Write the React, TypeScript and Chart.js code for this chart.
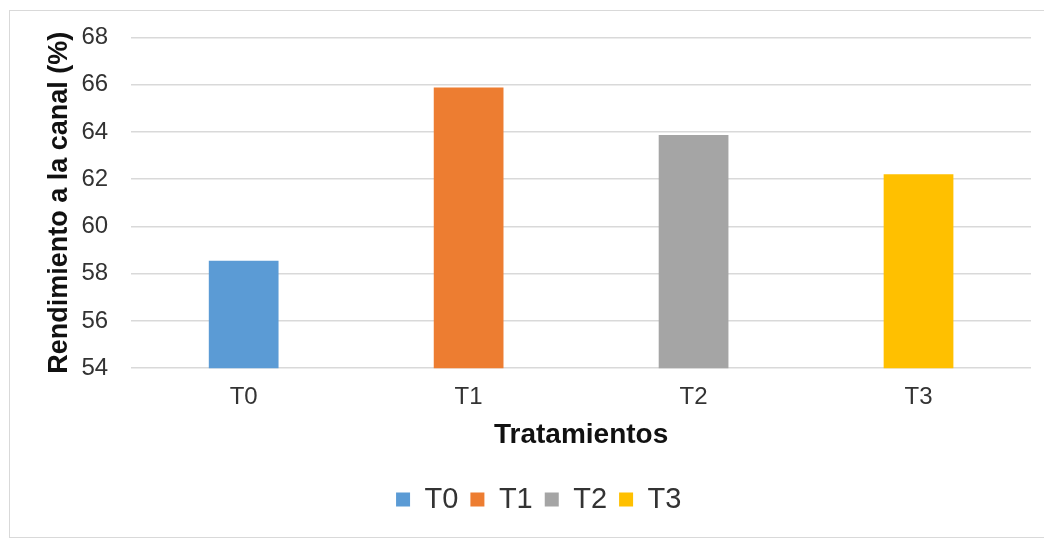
import React, { useEffect, useRef } from "react";
import { Chart, registerables } from "chart.js";

Chart.register(...registerables);

const categories = ["T0", "T1", "T2", "T3"];
const values = [58.55, 65.88, 63.87, 62.21];
const colors = ["#5B9BD5", "#ED7D31", "#A5A5A5", "#FFC000"];
const yMin = 54;
const yMax = 68;
const yStep = 2;
const xTitle = "Tratamientos";
const yTitle = "Rendimiento a la canal (%)";

const FONT = "'Liberation Sans', Arial, sans-serif";

export default function App() {
  const ref = useRef<HTMLCanvasElement | null>(null);
  useEffect(() => {
    if (!ref.current) return;
    const chart = new Chart(ref.current, {
      type: "bar",
      data: {
        labels: categories,
        datasets: [
          {
            data: values,
            backgroundColor: colors,
            borderWidth: 0,
            barPercentage: 0.31,
            categoryPercentage: 1,
          },
        ],
      },
      options: {
        responsive: false,
        animation: false,
        devicePixelRatio: 1,
        layout: { padding: { left: 46.5, right: 13, top: 31, bottom: 14 } },
        plugins: {
          tooltip: { enabled: false },
          legend: {
            position: "bottom",
            labels: {
              font: { family: FONT, size: 29 },
              color: "#333333",
              boxWidth: 14,
              boxHeight: 14,
              padding: 12,
              generateLabels: () =>
                categories.map((c, i) => ({
                  text: c,
                  fillStyle: colors[i],
                  strokeStyle: colors[i],
                  lineWidth: 0,
                  hidden: false,
                  index: i,
                  fontColor: "#333333",
                })),
            },
          },
        },
        scales: {
          x: {
            grid: { display: false },
            border: { display: false },
            ticks: {
              font: { family: FONT, size: 24 },
              color: "#333333",
              padding: 7,
            },
            title: {
              display: true,
              text: xTitle,
              font: { family: FONT, size: 28, weight: "bold", lineHeight: 1 },
              color: "#111111",
              padding: { top: 2, bottom: 24 },
            },
          },
          y: {
            min: yMin,
            max: yMax,
            ticks: {
              stepSize: yStep,
              font: { family: FONT, size: 24 },
              color: "#333333",
              padding: 23,
            },
            grid: { color: "#d9d9d9", lineWidth: 1.5, drawTicks: false },
            border: { display: false },
            title: {
              display: true,
              text: yTitle,
              font: { family: FONT, size: 27, weight: "bold", lineHeight: 1 },
              color: "#111111",
              padding: { top: 0, bottom: -15 },
            },
          },
        },
      },
    });
    return () => chart.destroy();
  }, []);
  return (
    <div style={{ position: "fixed", left: 0, top: 0, width: 1044, height: 538, background: "#fff", overflow: "hidden" }}>
      <div
        style={{
          position: "absolute",
          left: 9,
          top: 10,
          width: 1060,
          height: 526,
          border: "1px solid #d9d9d9",
        }}
      />
      <canvas ref={ref} width={1044} height={538} style={{ position: "absolute", left: 0, top: 0 }} />
    </div>
  );
}
